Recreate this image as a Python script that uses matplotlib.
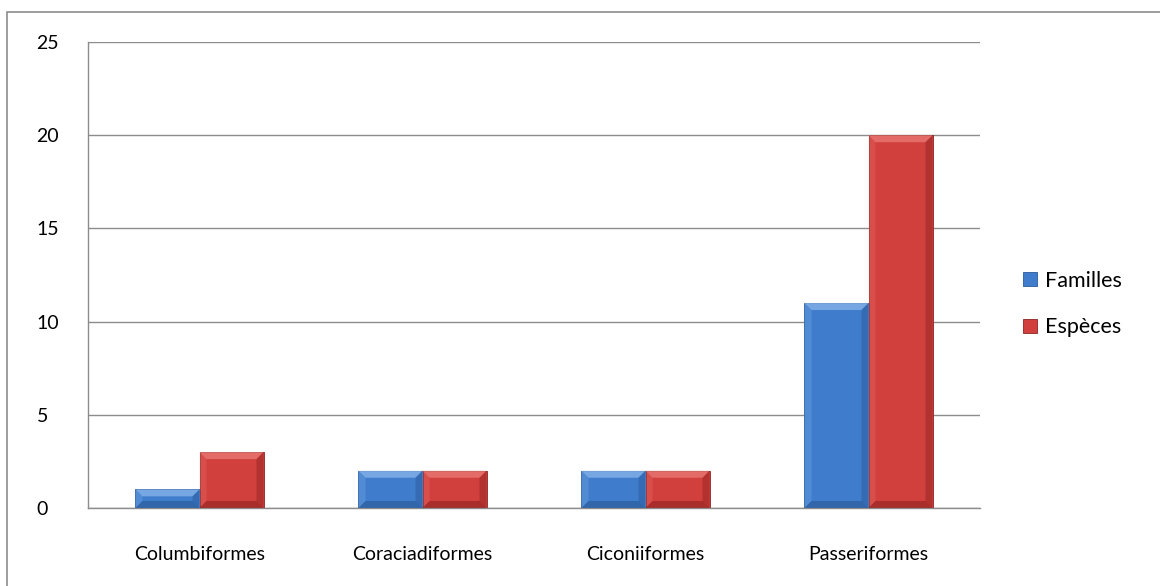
import numpy as np
import matplotlib
matplotlib.use("Agg")
import matplotlib.pyplot as plt
from matplotlib.patches import Rectangle, Polygon

plt.rcParams['font.family'] = ['Lato', 'DejaVu Sans']

categories = ['Columbiformes', 'Coraciadiformes', 'Ciconiiformes', 'Passeriformes']
familles = [1, 2, 2, 11]
especes = [3, 2, 2, 20]
series_labels = ['Familles', 'Espèces']
yticks = [0, 5, 10, 15, 20, 25]

blue = '#3f7dcc'
red = '#d2403d'


def bevel(ax, bars, light, dark, depth_px=7):
    """Petit effet de biseau façon Excel sur chaque barre"""
    inv = ax.transData.inverted()
    for b in bars:
        x0, y0 = b.get_x(), b.get_y()
        w, h = b.get_width(), b.get_height()
        # profondeur en unités de données
        p0 = ax.transData.transform((x0, y0))
        dx = inv.transform((p0[0] + depth_px, p0[1]))[0] - x0
        dy = inv.transform((p0[0], p0[1] + depth_px))[1] - y0
        dy = min(dy, h / 2)
        dx = min(dx, w / 2)
        x1, y1 = x0 + w, y0 + h
        top = Polygon([(x0, y1), (x1, y1), (x1 - dx, y1 - dy), (x0 + dx, y1 - dy)],
                      closed=True, facecolor=light, edgecolor='none', alpha=0.6, zorder=3)
        left = Polygon([(x0, y0), (x0, y1), (x0 + dx, y1 - dy), (x0 + dx, y0 + dy)],
                       closed=True, facecolor=light, edgecolor='none', alpha=0.2, zorder=3)
        right = Polygon([(x1, y0), (x1, y1), (x1 - dx, y1 - dy), (x1 - dx, y0 + dy)],
                        closed=True, facecolor=dark, edgecolor='none', alpha=0.3, zorder=3)
        bottom = Polygon([(x0, y0), (x1, y0), (x1 - dx, y0 + dy), (x0 + dx, y0 + dy)],
                         closed=True, facecolor=dark, edgecolor='none', alpha=0.4, zorder=3)
        for p in (top, left, right, bottom):
            ax.add_patch(p)


fig = plt.figure(figsize=(11.6, 5.86), dpi=100)
ax = fig.add_axes([88 / 1160, 78 / 586, 892 / 1160, 466 / 586])

x = np.arange(len(categories))
width = 0.287
b1 = ax.bar(x - width / 2, familles, width, color=blue, edgecolor='#2a5a9a',
            linewidth=0.6, label=series_labels[0], zorder=2)
b2 = ax.bar(x + width / 2, especes, width, color=red, edgecolor='#8a2422',
            linewidth=0.6, label=series_labels[1], zorder=2)

ax.set_xlim(-0.5, len(categories) - 0.5)
ax.set_ylim(0, 25)
ax.set_yticks(yticks)
ax.set_xticks(x)
ax.set_xticklabels(categories)
ax.tick_params(axis='both', length=0, labelsize=14, colors='black')
ax.tick_params(axis='y', pad=37)
ax.tick_params(axis='x', pad=27)
for lab in ax.get_yticklabels():
    lab.set_horizontalalignment('left')

ax.yaxis.grid(True, color='#8c8c8c', linewidth=1.0, zorder=0)
ax.set_axisbelow(True)
for s in ['top', 'right']:
    ax.spines[s].set_visible(False)
for s in ['left', 'bottom']:
    ax.spines[s].set_color('#8c8c8c')
    ax.spines[s].set_linewidth(1.0)

fig.canvas.draw()
bevel(ax, b1, '#9cc4f2', '#1d4478')
bevel(ax, b2, '#f08a86', '#6a1210')

leg = ax.legend(loc='center left', bbox_to_anchor=(1004 / 1160, (586 - 304) / 586),
                bbox_transform=fig.transFigure, frameon=False, fontsize=15.5,
                handlelength=0.65, handleheight=0.65, handletextpad=0.35,
                labelspacing=1.25)

# cadre extérieur
fig.patches.append(Rectangle((7 / 1160, -0.02), 1.2, 1 - 12 / 586 + 0.02,
                             transform=fig.transFigure, fill=False,
                             edgecolor='#8c8c8c', linewidth=1.2))

fig.savefig('out.png', dpi=100)
